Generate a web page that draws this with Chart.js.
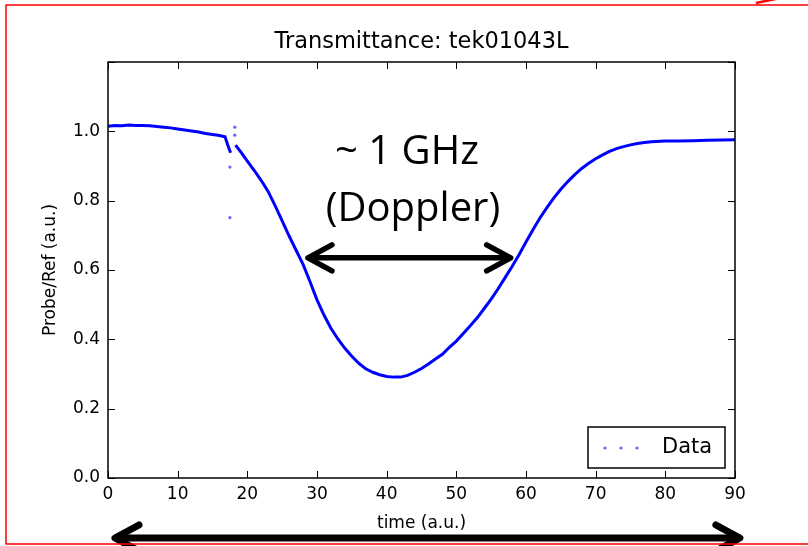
<!DOCTYPE html>
<html>
<head>
<meta charset="utf-8">
<script src="https://cdn.jsdelivr.net/npm/chart.js@4.4.1/dist/chart.umd.min.js"></script>
<style>
  html, body { margin: 0; padding: 0; background: #fff; }
  canvas { display: block; }
</style>
</head>
<body>
<canvas id="c" width="808" height="546" style="width:808px;height:546px"></canvas>
<script>
// Transmittance trace (time in a.u., Probe/Ref in a.u.).
// null marks the short break in the trace near t = 18.
const timeValues = [
  0, 1, 2, 3, 4, 5, 6, 7, 8, 9, 10, 11, 12, 13, 14, 15, 16, 16.8, 17.2, 17.6, 17.9,
  18.3, 19, 20, 21, 22, 23, 24, 25, 26, 27, 28, 29, 30, 31, 32, 33, 34, 35, 36, 37,
  38, 39, 40, 41, 42, 43, 44, 45, 46, 47, 48, 49, 50, 51, 52, 53, 54, 55, 56, 57,
  58, 59, 60, 61, 62, 63, 64, 65, 66, 67, 68, 69, 70, 71, 72, 73, 74, 75, 76, 77,
  78, 80, 82, 84, 86, 88, 90
];
const transmittance = [
  1.015, 1.017, 1.016, 1.018, 1.017, 1.017, 1.016, 1.014, 1.012, 1.010, 1.007, 1.004,
  1.001, 0.998, 0.994, 0.991, 0.988, 0.984, 0.960, 0.938, null,
  0.960, 0.942, 0.914, 0.887, 0.858, 0.826, 0.785, 0.742, 0.698, 0.657, 0.616, 0.566,
  0.514, 0.470, 0.432, 0.401, 0.374, 0.351, 0.331, 0.315, 0.305, 0.298, 0.293, 0.291,
  0.291, 0.296, 0.305, 0.316, 0.329, 0.343, 0.357, 0.377, 0.395, 0.417, 0.439, 0.462,
  0.489, 0.516, 0.546, 0.578, 0.610, 0.644, 0.681, 0.716, 0.750, 0.780, 0.808, 0.833,
  0.855, 0.875, 0.893, 0.908, 0.921, 0.932, 0.942, 0.950, 0.956, 0.961, 0.965, 0.968,
  0.970, 0.972, 0.972, 0.973, 0.974, 0.975, 0.976
];
// stray samples around the glitch at t ~ 17.5-18.2
const strayTime = [17.5, 17.5, 18.2, 18.2];
const strayValue = [0.897, 0.751, 1.012, 0.989];

const xTicks = [0, 10, 20, 30, 40, 50, 60, 70, 80, 90];
const yTicks = [0.0, 0.2, 0.4, 0.6, 0.8, 1.0, 1.2];
const yTickLabels = ["0.0", "0.2", "0.4", "0.6", "0.8", "1.0", ""];

const TITLE = "Transmittance: tek01043L";
const X_TITLE = "time (a.u.)";
const Y_TITLE = "Probe/Ref (a.u.)";
const LEGEND_LABEL = "Data";
const NOTE_LINES = ["~ 1 GHz", "(Doppler)"];
const widthFrom = 28.7, widthTo = 57.8, widthLevel = 0.635; // the Doppler-width arrow

const MPL = "'DejaVu Sans', sans-serif";
const BLUE = "#0000ff";

function arrowHead(ctx, x, y, dir, len, half) {
  ctx.beginPath();
  ctx.moveTo(x - dir * len, y - half);
  ctx.lineTo(x, y);
  ctx.lineTo(x - dir * len, y + half);
  ctx.stroke();
}

const decorations = {
  id: "decorations",
  afterDraw(chart) {
    const { ctx, chartArea: a, scales } = chart;
    const xs = scales.x, ys = scales.y;
    ctx.save();

    // axes frame + inward ticks on all sides
    ctx.strokeStyle = "#000";
    ctx.lineWidth = 1.5;
    ctx.strokeRect(a.left, a.top, a.right - a.left, a.bottom - a.top);
    ctx.lineWidth = 1;
    ctx.beginPath();
    for (const t of xTicks) {
      const px = Math.round(xs.getPixelForValue(t)) + 0.5;
      ctx.moveTo(px, a.bottom); ctx.lineTo(px, a.bottom - 7);
      ctx.moveTo(px, a.top); ctx.lineTo(px, a.top + 7);
    }
    for (const t of yTicks) {
      const py = Math.round(ys.getPixelForValue(t)) + 0.5;
      ctx.moveTo(a.left, py); ctx.lineTo(a.left + 7, py);
      ctx.moveTo(a.right, py); ctx.lineTo(a.right - 7, py);
    }
    ctx.stroke();

    // legend box
    const lx = a.right - 147, ly = a.bottom - 51, lw = 137, lh = 41;
    ctx.fillStyle = "#fff";
    ctx.fillRect(lx, ly, lw, lh);
    ctx.lineWidth = 1.5;
    ctx.strokeRect(lx, ly, lw, lh);
    ctx.fillStyle = "rgba(0,0,255,0.6)";
    for (const dx of [17, 33, 49]) {
      ctx.beginPath();
      ctx.arc(lx + dx, ly + 21, 1.6, 0, Math.PI * 2);
      ctx.fill();
    }
    ctx.fillStyle = "#000";
    ctx.font = "21px " + MPL;
    ctx.textBaseline = "middle";
    ctx.textAlign = "left";
    ctx.fillText(LEGEND_LABEL, lx + 74, ly + 21);

    // annotation text
    ctx.font = "40px 'Open Sans', sans-serif";
    ctx.textAlign = "center";
    ctx.textBaseline = "alphabetic";
    ctx.fillText(NOTE_LINES[0], 407, 164);
    ctx.fillText(NOTE_LINES[1], 413, 221);

    // Doppler width arrow
    ctx.lineCap = "round";
    ctx.lineJoin = "round";
    ctx.lineWidth = 5.5;
    const ax0 = xs.getPixelForValue(widthFrom), ax1 = xs.getPixelForValue(widthTo);
    const ay = ys.getPixelForValue(widthLevel);
    ctx.beginPath(); ctx.moveTo(ax0 + 2, ay); ctx.lineTo(ax1 - 2, ay); ctx.stroke();
    arrowHead(ctx, ax0, ay, -1, 24, 13);
    arrowHead(ctx, ax1, ay, 1, 24, 13);

    // full-scan arrow under the axis
    ctx.lineWidth = 7;
    const bx0 = xs.getPixelForValue(1.0), bx1 = xs.getPixelForValue(90.7);
    const by = 538;
    ctx.beginPath(); ctx.moveTo(bx0 + 3, by); ctx.lineTo(bx1 - 3, by); ctx.stroke();
    arrowHead(ctx, bx0, by, -1, 24, 13);
    arrowHead(ctx, bx1, by, 1, 24, 13);

    // slide frame in red
    ctx.lineCap = "butt";
    ctx.strokeStyle = "#ff0000";
    ctx.lineWidth = 1.5;
    ctx.strokeRect(6, 5, 830, 539);
    ctx.lineWidth = 2.5;
    ctx.beginPath(); ctx.moveTo(756, 3); ctx.lineTo(790, -4); ctx.stroke();
    ctx.restore();
  }
};

new Chart(document.getElementById("c"), {
  type: "line",
  data: {
    datasets: [
      {
        label: LEGEND_LABEL,
        data: timeValues.map((t, i) => ({ x: t, y: transmittance[i] })),
        borderColor: BLUE,
        backgroundColor: BLUE,
        borderWidth: 3,
        pointRadius: 0,
        spanGaps: false,
        tension: 0
      },
      {
        label: "stray",
        data: strayTime.map((t, i) => ({ x: t, y: strayValue[i] })),
        showLine: false,
        pointRadius: 1.6,
        pointBorderWidth: 0,
        pointBackgroundColor: "rgba(0,0,255,0.6)"
      }
    ]
  },
  options: {
    responsive: false,
    animation: false,
    layout: { padding: { left: 0, right: 73, top: 0, bottom: 0 } },
    plugins: {
      legend: { display: false },
      tooltip: { enabled: false },
      title: {
        display: true,
        fullSize: false,
        text: TITLE,
        color: "#000",
        font: { family: MPL, size: 22.5, weight: "normal" },
        padding: { top: 29, bottom: 6 }
      }
    },
    scales: {
      x: {
        type: "linear",
        min: 0, max: 90,
        afterBuildTicks: (s) => { s.ticks = xTicks.map((v) => ({ value: v })); },
        afterFit: (s) => { s.height = 68; },
        grid: { display: false, drawTicks: false },
        border: { display: false },
        ticks: { color: "#000", font: { family: MPL, size: 17 }, padding: 6, maxRotation: 0 },
        title: { display: true, text: X_TITLE, color: "#000", font: { family: MPL, size: 17 }, padding: { top: 2, bottom: 12 } }
      },
      y: {
        type: "linear",
        min: 0, max: 1.2,
        afterBuildTicks: (s) => { s.ticks = yTicks.map((v) => ({ value: v })); },
        afterFit: (s) => { s.width = 108; },
        grid: { display: false, drawTicks: false },
        border: { display: false },
        ticks: {
          color: "#000",
          font: { family: MPL, size: 17 },
          padding: 8,
          callback: (v) => yTickLabels[yTicks.findIndex((t) => Math.abs(t - v) < 1e-6)] ?? ""
        },
        title: { display: true, text: Y_TITLE, color: "#000", font: { family: MPL, size: 17 }, padding: { top: 40, bottom: 0 } }
      }
    }
  },
  plugins: [decorations]
});
</script>
</body>
</html>
